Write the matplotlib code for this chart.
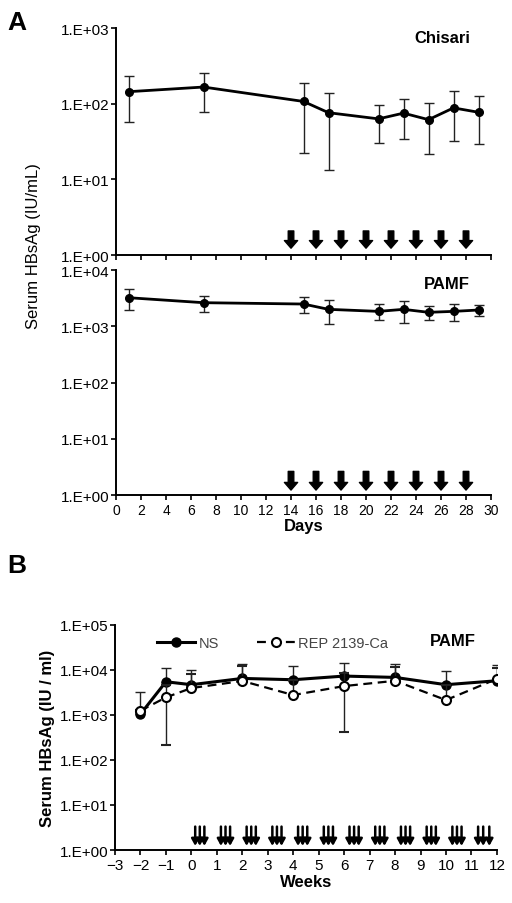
import matplotlib
matplotlib.use("Agg")
import matplotlib.pyplot as plt
from matplotlib.lines import Line2D
from matplotlib.ticker import FixedLocator, FuncFormatter
import numpy as np

plt.rcParams["font.family"] = ["Liberation Sans", "DejaVu Sans"]

# ----------------------------------
# DATA
# ----------------------------------
# Panel A: daily samples
days = [1, 7, 15, 17, 21, 23, 25, 27, 29]
dose_days = [14, 16, 18, 20, 22, 24, 26, 28]

chisari_mean = [144, 166, 107, 76, 63, 75, 61.5, 88, 77]
chisari_low = [57, 78, 22.5, 13.3, 30.5, 34.5, 21.9, 32, 29]
chisari_high = [230, 257, 190, 138, 95, 116, 101, 146, 125]

pamf_mean = [3220, 2625, 2485, 2000, 1840, 2000, 1770, 1840, 1945]
pamf_low = [1945, 1770, 1720, 1110, 1290, 1140, 1290, 1240, 1545]
pamf_high = [4590, 3450, 3270, 2890, 2490, 2810, 2290, 2455, 2390]

# Panel B: weekly samples
weeks = [-2, -1, 0, 2, 4, 6, 8, 10, 12]
ns_mean = [1040, 5430, 4670, 6440, 6020, 7260, 6780, 4670, 5720]
ns_high = [3260, 10700, 9700, 13600, 11900, 14100, 13200, 9210, 12700]

rep_mean = [1235, 2440, 3935, 5650, 2750, 4355, 5700, 2130, 6300]
rep_low = [1235, 217, 3935, 5650, 2750, 423, 5700, 2130, 6300]
rep_high = [1300, 4600, 8050, 12300, 5800, 8300, 11700, 4600, 11000]

# dosing (3 per week over 12 weeks)
dose_weeks = [0.15, 0.33, 0.51, 1.16, 1.34, 1.52, 2.17, 2.35, 2.53,
              3.18, 3.36, 3.54, 4.19, 4.37, 4.55, 5.2, 5.38, 5.56,
              6.21, 6.39, 6.57, 7.22, 7.4, 7.58, 8.23, 8.41, 8.59,
              9.24, 9.42, 9.6, 10.25, 10.43, 10.61, 11.26, 11.46, 11.7]


def excel_fmt(v, pos):
    return "1.E+%02d" % int(round(np.log10(v)))


def style_log_axis(ax, top_exp, tick_fs=11):
    ax.set_yscale("log")
    ax.set_ylim(1, 10 ** top_exp)
    ax.yaxis.set_major_locator(FixedLocator([10 ** e for e in range(top_exp + 1)]))
    ax.yaxis.set_minor_locator(FixedLocator([]))
    ax.yaxis.set_major_formatter(FuncFormatter(excel_fmt))
    for s in ["top", "right"]:
        ax.spines[s].set_visible(False)
    for s in ["left", "bottom"]:
        ax.spines[s].set_linewidth(1.4)
    ax.tick_params(axis="y", direction="out", length=3.5, width=1.2,
                   labelsize=tick_fs, pad=1)
    ax.tick_params(axis="x", direction="out", length=3.5, width=1.2, pad=2)


def err(mean, low, high):
    m = np.array(mean, float)
    return [m - np.array(low, float), np.array(high, float) - m]


def block_arrows(ax, xs, y0, y1):
    for x in xs:
        ax.annotate("", xy=(x, y1), xytext=(x, y0),
                    xycoords=("data", "axes fraction"),
                    textcoords=("data", "axes fraction"),
                    arrowprops=dict(arrowstyle="simple,head_length=0.55,head_width=0.95,tail_width=0.4",
                                    color="black", shrinkA=0, shrinkB=0,
                                    mutation_scale=10))


fig = plt.figure(figsize=(5.12, 9.04), dpi=100)

# -------------------------------
# PANEL A - Chisari
# -------------------------------
ax1 = fig.add_axes([0.2266, 0.7168, 0.7324, 0.2511])
style_log_axis(ax1, 3)
ax1.errorbar(days, chisari_mean, yerr=err(chisari_mean, chisari_low, chisari_high),
             color="black", lw=2, marker="o", ms=5.5, ecolor="#222222",
             elinewidth=1, capsize=3.5, capthick=1)
ax1.set_xlim(0, 30)
ax1.set_xticks(range(0, 31, 2))
ax1.tick_params(axis="x", labelbottom=False)
ax1.text(0.944, 0.96, "Chisari", transform=ax1.transAxes, ha="right", va="center",
         fontsize=12, fontweight="bold")
block_arrows(ax1, dose_days, 0.106, 0.03)

# -------------------------------
# PANEL A - PAMF
# -------------------------------
ax2 = fig.add_axes([0.2266, 0.4513, 0.7324, 0.2489])
style_log_axis(ax2, 4)
ax2.errorbar(days, pamf_mean, yerr=err(pamf_mean, pamf_low, pamf_high),
             color="black", lw=2, marker="o", ms=5.5, ecolor="#222222",
             elinewidth=1, capsize=3.5, capthick=1)
ax2.set_xlim(0, 30)
ax2.set_xticks(range(0, 31, 2))
ax2.tick_params(axis="x", labelsize=10)
ax2.set_xlabel("Days", fontsize=12, fontweight="bold", labelpad=1)
ax2.text(0.944, 0.938, "PAMF", transform=ax2.transAxes, ha="right", va="center",
         fontsize=12, fontweight="bold")
block_arrows(ax2, dose_days, 0.105, 0.022)

fig.text(34 / 512, 1 - 246 / 904, "Serum HBsAg (IU/mL)", rotation=90,
         ha="center", va="center", fontsize=12)

# -------------------------------
# PANEL B
# -------------------------------
ax3 = fig.add_axes([0.2246, 0.0586, 0.746, 0.2492])
style_log_axis(ax3, 5)
ax3.errorbar(weeks, rep_mean, yerr=err(rep_mean, rep_low, rep_high),
             color="black", lw=1.6, ls=(0, (4, 2.5)), marker="o", ms=6.5,
             mfc="white", mec="black", mew=1.5, ecolor="#222222",
             elinewidth=1, capsize=3.5, capthick=1, zorder=3)
ax3.errorbar(weeks, ns_mean, yerr=err(ns_mean, ns_mean, ns_high),
             color="black", lw=2.2, marker="o", ms=6.5, ecolor="#222222",
             elinewidth=1, capsize=3.5, capthick=1, zorder=2)
ax3.set_xlim(-3, 12)
ax3.set_xticks(range(-3, 13))
ax3.tick_params(axis="x", labelsize=11)
ax3.set_xlabel("Weeks", fontsize=12, fontweight="bold", labelpad=2)
ax3.set_ylabel("Serum HBsAg (IU / ml)", fontsize=12, fontweight="bold", labelpad=4)
ax3.text(0.944, 0.932, "PAMF", transform=ax3.transAxes, ha="right", va="center",
         fontsize=12, fontweight="bold")

handles = [
    Line2D([], [], color="black", lw=2.2, marker="o", ms=6.5),
    Line2D([], [], color="black", lw=1.6, ls=(0, (4, 2.5)), marker="o", ms=6.5,
           mfc="white", mec="black", mew=1.5),
]
leg = ax3.legend(handles, ["NS", "REP 2139-Ca"], loc="center left",
                 bbox_to_anchor=(0.11, 0.918), ncol=2, frameon=False,
                 fontsize=10.5, handlelength=2.6, columnspacing=2.6,
                 handletextpad=0.25, borderpad=0, borderaxespad=0)
for t in leg.get_texts():
    t.set_color("#444444")

for x in dose_weeks:
    ax3.annotate("", xy=(x, 0.018), xytext=(x, 0.104),
                 xycoords=("data", "axes fraction"),
                 textcoords=("data", "axes fraction"),
                 arrowprops=dict(arrowstyle="-|>,head_length=0.4,head_width=0.22",
                                 color="black", lw=1.8, shrinkA=0, shrinkB=0,
                                 mutation_scale=10))

# panel letters
fig.text(7 / 512, 1 - 11 / 904, "A", ha="left", va="top", fontsize=19, fontweight="bold")
fig.text(7 / 512, 1 - 554 / 904, "B", ha="left", va="top", fontsize=19, fontweight="bold")

fig.savefig("out.png", dpi=100)
